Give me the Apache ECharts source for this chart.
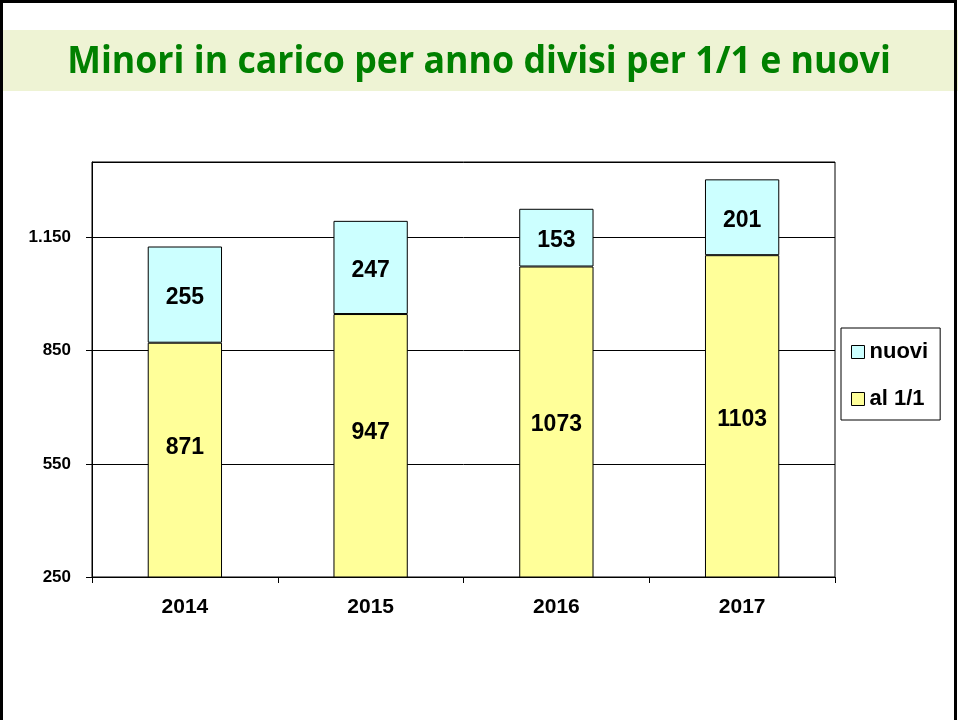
<!DOCTYPE html>
<html>
<head>
<meta charset="utf-8">
<script src="https://cdn.jsdelivr.net/npm/echarts@6/dist/echarts.min.js"></script>
<style>
  html, body { margin: 0; padding: 0; background: #fff; }
  #chart { width: 958px; height: 720px; }
</style>
</head>
<body>
<div id="chart"></div>
<script>
// Years shown on the category axis
const years = ['2014', '2015', '2016', '2017'];
// Children already in care on 1 January
const al11 = [871, 947, 1073, 1103];
// New children taken into care during the year
const nuovi = [255, 247, 153, 201];
// Value-axis range and step
const yMin = 250;
const yMax = 1350;
const yStep = 300;
// Vertical nudge (px) for the lower labels, keeping them clear of the clipped base
const al11LabelLift = [-15, -16, 0, 0];

const fmtThousands = v => String(v).replace(/\B(?=(\d{3})+(?!\d))/g, '.');
const FONT = '"Liberation Sans", Arial, sans-serif';

const chart = echarts.init(document.getElementById('chart'), null, { renderer: 'canvas' });

const labelStyle = {
  show: true,
  position: 'inside',
  offset: [0, 3],
  color: '#000',
  fontFamily: FONT,
  fontWeight: 'bold',
  fontSize: 23
};

chart.setOption({
  animation: false,
  backgroundColor: '#fff',
  graphic: [
    {
      type: 'rect', z: -10,
      shape: { x: 0, y: 30, width: 958, height: 61 },
      style: { fill: '#EEF3D4' }
    },
    {
      type: 'rect', z: 100, silent: true,
      shape: { x: 1.5, y: 1.5, width: 954, height: 740 },
      style: { fill: 'none', stroke: '#000', lineWidth: 3 }
    },
    {
      type: 'text', z: 10,
      x: 479, y: 62,
      scaleX: 0.94,
      style: {
        text: 'Minori in carico per anno divisi per 1/1 e nuovi',
        fill: '#008000',
        font: 'bold 38px "Open Sans", sans-serif',
        textAlign: 'center',
        textVerticalAlign: 'middle'
      }
    }
  ],
  grid: {
    left: 92, right: 123, top: 162, bottom: 143,
    show: true, borderColor: '#000', borderWidth: 1,
    backgroundColor: 'transparent'
  },
  legend: {
    orient: 'vertical',
    left: 841, top: 328,
    padding: [12, 12, 9, 10],
    borderColor: '#000', borderWidth: 1,
    icon: 'rect',
    itemWidth: 13, itemHeight: 13, itemGap: 23,
    data: ['nuovi', 'al 1/1'],
    textStyle: {
      fontFamily: FONT,
      fontWeight: 'bold', fontSize: 22, lineHeight: 24, color: '#000'
    },
    itemStyle: { borderColor: '#000', borderWidth: 1 }
  },
  xAxis: {
    type: 'category',
    data: years,
    axisLine: { lineStyle: { color: '#000', width: 1 } },
    axisTick: { show: true, length: 6, alignWithLabel: false, lineStyle: { color: '#000' } },
    axisLabel: {
      margin: 20,
      color: '#000',
      fontFamily: FONT,
      fontWeight: 'bold', fontSize: 21
    }
  },
  yAxis: {
    type: 'value',
    min: yMin, max: yMax, interval: yStep,
    axisLine: { show: true, lineStyle: { color: '#000' } },
    axisTick: { show: true, length: 6, lineStyle: { color: '#000' } },
    splitLine: { show: true, lineStyle: { color: '#000', width: 1 } },
    axisLabel: {
      margin: 21,
      showMaxLabel: false,
      color: '#000',
      fontFamily: FONT,
      fontWeight: 'bold', fontSize: 17,
      formatter: v => fmtThousands(v)
    }
  },
  series: [
    {
      name: 'al 1/1',
      type: 'bar',
      stack: 'tot',
      barWidth: '40%',
      data: al11.map((v, i) => ({
        value: v,
        label: { offset: [0, 3 + al11LabelLift[i]] }
      })),
      itemStyle: { color: '#FFFF99', borderColor: '#000', borderWidth: 1 },
      label: labelStyle
    },
    {
      name: 'nuovi',
      type: 'bar',
      stack: 'tot',
      barWidth: '40%',
      data: nuovi,
      itemStyle: { color: '#CCFFFF', borderColor: '#000', borderWidth: 1 },
      label: labelStyle
    }
  ]
});
</script>
</body>
</html>
